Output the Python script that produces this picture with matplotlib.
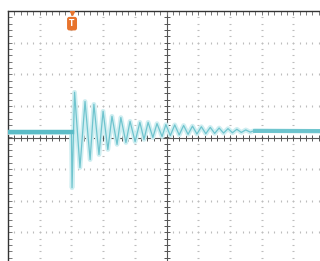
import matplotlib
matplotlib.use("Agg")
import matplotlib.pyplot as plt
import numpy as np

t_ext = [0.0, 2.0, 2.02, 2.10, 2.27, 2.43, 2.59, 2.71, 2.87, 3.00, 3.15, 3.28,
         3.44, 3.56, 3.72, 3.85, 4.01, 4.16, 4.29, 4.42, 4.57, 4.70, 4.86, 4.98,
         5.12, 5.26, 5.40, 5.54, 5.68, 5.82, 5.96, 6.10, 6.24, 6.38, 6.52, 6.66,
         6.80, 6.94, 7.08, 7.22, 7.36, 7.50, 7.64, 7.78, 10.0]
v_ext = [0.16, 0.16, -1.59, 1.43, -0.95, 1.14, -0.70, 1.05, -0.54, 0.83, -0.38, 0.67,
         -0.22, 0.63, -0.16, 0.51, -0.13, 0.48, -0.06, 0.48, 0.00, 0.44, 0.03, 0.41,
         0.06, 0.40, 0.08, 0.38, 0.10, 0.36, 0.11, 0.34, 0.12, 0.32, 0.13, 0.30,
         0.14, 0.28, 0.15, 0.26, 0.16, 0.24, 0.17, 0.22, 0.19]
trigger_pos = 2.02
base_pre = 0.16
base_post = 0.19

fig = plt.figure(figsize=(3.2, 2.61), dpi=100)
ax = fig.add_axes([8 / 320, -3 / 261, 317 / 320, 253 / 261])
ax.set_xlim(0, 10)
ax.set_ylim(-4, 4)
ax.set_xticks([])
ax.set_yticks([])
for s in ["right", "bottom"]:
    ax.spines[s].set_visible(False)
for s in ["left", "top"]:
    ax.spines[s].set_color("#333333")
    ax.spines[s].set_linewidth(1.0)

grid_c = "#bdbdbd"
minor = np.arange(0, 10.01, 0.2)
minor_y = np.arange(-4, 4.01, 0.2)
# grade pontilhada
for gx in range(1, 10):
    if gx == 5:
        continue
    ax.plot(np.full_like(minor_y, gx), minor_y, ls="none", marker="_", ms=2, mew=0.8,
            color=grid_c)
for gy in range(-3, 4):
    if gy == 0:
        continue
    ax.plot(minor, np.full_like(minor, gy), ls="none", marker="|", ms=2, mew=0.8,
            color=grid_c)

# eixos centrais com marcas
ax.axhline(0, color="#555555", lw=0.8)
ax.axvline(5, color="#555555", lw=0.8)
ax.plot(minor, np.zeros_like(minor), ls="none", marker="|", ms=4, mew=0.7, color="#555555")
ax.plot(np.full_like(minor_y, 5), minor_y, ls="none", marker="_", ms=4, mew=0.7, color="#555555")
# marcas nas bordas
ax.plot(minor, np.full_like(minor, 3.93), ls="none", marker="|", ms=3, mew=0.7, color="#777777")
ax.plot(np.full_like(minor_y, 0.05), minor_y, ls="none", marker="_", ms=3, mew=0.7, color="#777777")

# sinal
ax.plot(t_ext, v_ext, color="#cfeef1", lw=3.4, solid_joinstyle="round", zorder=5)
ax.plot(t_ext, v_ext, color="#6fc4ce", lw=0.9, solid_joinstyle="round", zorder=6)
ax.plot([0, trigger_pos], [base_pre, base_pre], color="#5bbcc7", lw=3.2, zorder=6)
ax.plot([t_ext[-2], t_ext[-1]], [base_post, base_post], color="#6cc3cd", lw=2.8, zorder=6)

# marcador de trigger
ax.text(trigger_pos, 3.6, "T", color="white", fontsize=5.5, fontweight="bold",
        ha="center", va="center", zorder=8,
        bbox=dict(boxstyle="round,pad=0.3", fc="#e8742d", ec="none"))
ax.plot([trigger_pos], [3.95], marker="v", ms=3, color="#e8742d", zorder=8)

fig.savefig("out.png", dpi=100)
